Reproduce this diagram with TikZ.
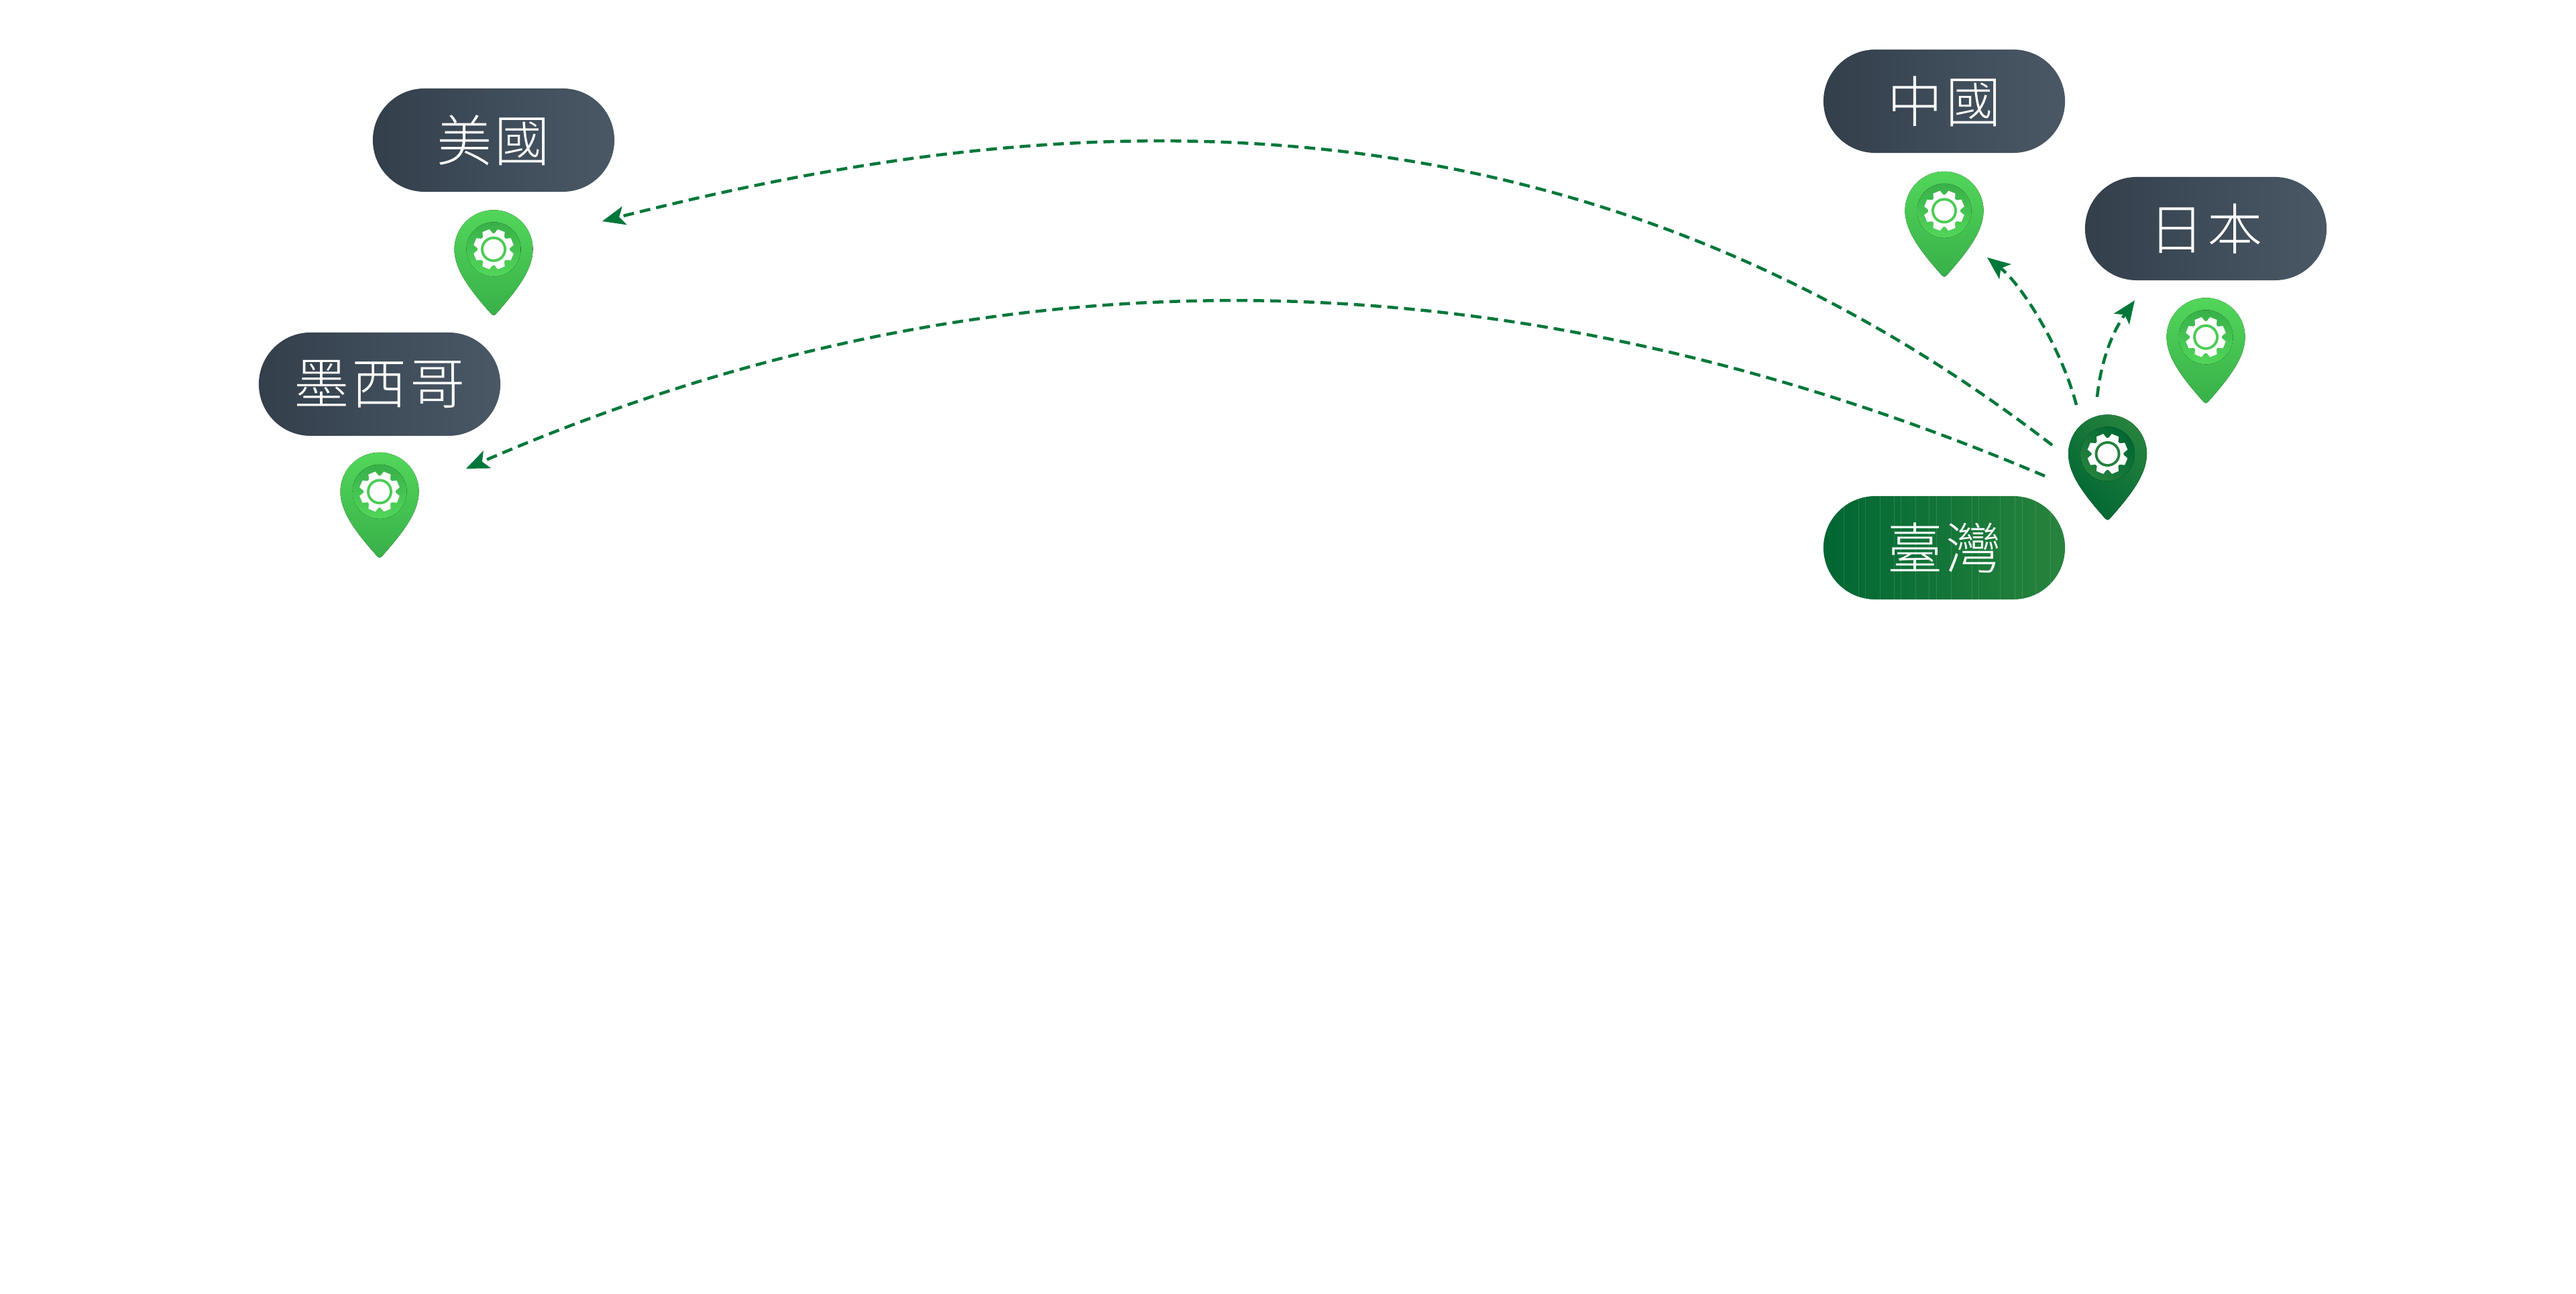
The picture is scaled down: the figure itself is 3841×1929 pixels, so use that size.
\documentclass[tikz,border=0pt]{standalone}
\usepackage{fontspec}
\newfontfamily\cjk[LetterSpace=5]{Noto Sans CJK TC Light}
\usetikzlibrary{positioning, arrows.meta, shapes.misc, calc}
\definecolor{slateL}{HTML}{333F4B}
\definecolor{slateR}{HTML}{4A5866}
\definecolor{twL}{HTML}{006633}
\definecolor{twR}{HTML}{27843D}
\definecolor{flowgreen}{HTML}{00773A}
\definecolor{limetop}{HTML}{52D65A}
\definecolor{limebot}{HTML}{38B049}
\definecolor{limering}{HTML}{4CCB55}
\definecolor{pintop}{HTML}{25823D}
\definecolor{pinbot}{HTML}{006633}
\newcommand{\pinbody}{(-58.5,0) arc[start angle=180, end angle=0, radius=0.585cm]
  .. controls (58.5,-30) and (36,-60) .. (3,-97)
  .. controls (1,-99) and (-1,-99) .. (-3,-97)
  .. controls (-36,-60) and (-58.5,-30) .. (-58.5,0) -- cycle}
\newcommand{\gearteeth}[1]{%
  \foreach \a in {22.5,67.5,...,337.5}
    \fill[white, rotate=\a] (-8,22) -- (-5.5,30) -- (5.5,30) -- (8,22) -- cycle;
  \fill[white] (0,0) circle (0.24cm);
  \fill[#1] (0,0) circle (0.19cm);
  \fill[white] (0,0) circle (0.15cm);}
\begin{document}
\begin{tikzpicture}[
  x=0.01cm, y=0.01cm,
  pill/.style={rounded rectangle, minimum width=3.6cm, minimum height=1.54cm,
               inner sep=0pt, text=white, font=\cjk\fontsize{23.4}{24}\selectfont},
  slate/.style={pill, left color=slateL, right color=slateR},
  home/.style={pill, left color=twL, right color=twR, path picture={
    \foreach \s in {31,53,63,85,106,116,138,158,169,191,222,232,264,286,297,317,339}
      \draw[white, opacity=.12, line width=.01cm]
        ($(path picture bounding box.south west)+(\s,0)$) -- +(0,154);}},
  flow/.style={draw=flowgreen, line width=0.045cm, dash pattern=on 0.16cm off 0.09cm,
               -{Stealth[length=0.34cm, width=0.28cm, inset=0.08cm, fill=flowgreen]}},
  limepin/.pic={
    \fill[top color=limetop, bottom color=limebot] \pinbody;
    \fill[top color=limebot, bottom color=limetop] (0,0) circle (0.405cm);
    \gearteeth{limering}
  },
  darkpin/.pic={
    \fill[left color=pintop, right color=pinbot, shading angle=315] \pinbody;
    \fill[left color=pintop, right color=pinbot, shading angle=135] (0,0) circle (0.405cm);
    \gearteeth{pintop}
  }
]
\useasboundingbox (0,0) rectangle (3841,1929);

\node[slate] (cn) at (2899,1778) {中國};
\node[slate] (jp) at (3289,1588) {日本};
\node[slate] (us) at (736,1720) {美國};
\node[slate] (mx) at (566,1356) {墨西哥};
\node[home]  (tw) at (2899,1112) {臺灣};

\coordinate[below=0.855cm of cn] (cnpin);
\coordinate[below=0.84cm of jp] (jppin);
\coordinate[below=0.85cm of us] (uspin);
\coordinate[below=0.825cm of mx] (mxpin);
\coordinate (twpin) at (3142.5,1252);

\foreach \i in {cn,jp,us,mx} \pic at (\i pin) {limepin};
\pic at (twpin) {darkpin};

\coordinate (ustail) at (3060,1265);
\coordinate (ushead) at (898,1599);
\coordinate (mxtail) at (3049,1219);
\coordinate (mxhead) at (695,1230);
\coordinate (cntail) at (3096,1325);
\coordinate (cnhead) at (2963,1545);
\coordinate (jptail) at (3127,1337);
\coordinate (jphead) at (3183,1481);

\draw[flow] (ustail) .. controls (2280,1866) and (1470,1744) .. (ushead);
\draw[flow] (mxtail) .. controls (2240,1562) and (1470,1567) .. (mxhead);
\draw[flow] (cntail) .. controls (3074,1409) and (3015,1504) .. (cnhead);
\draw[flow] (jptail) .. controls (3133,1393) and (3150,1434) .. (jphead);
\end{tikzpicture}
\end{document}
